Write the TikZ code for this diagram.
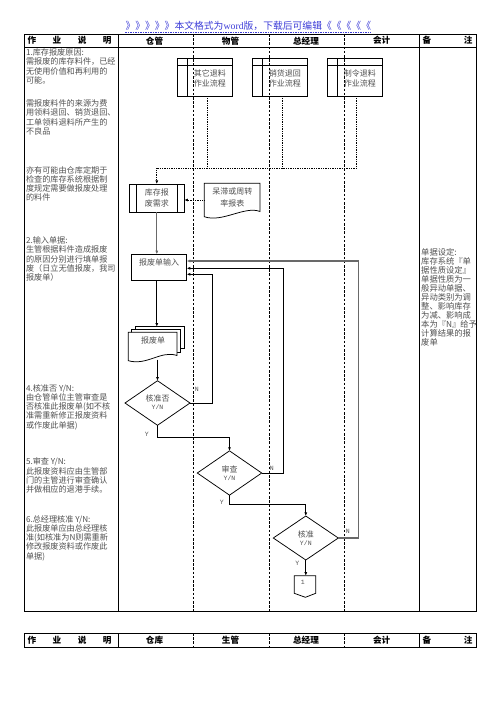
\documentclass[tikz,border=0pt]{standalone}
\usepackage{fontspec}
\setmainfont{Noto Sans CJK SC}
\setmonofont{Liberation Mono}
\newfontfamily\latinserif{Liberation Serif}
\usetikzlibrary{arrows.meta,calc}
\definecolor{txtgray}{RGB}{80,80,80}
\definecolor{linegray}{RGB}{105,105,105}
\definecolor{titleblue}{RGB}{60,60,215}
\tikzset{
  tbl/.style={line width=0.9pt},
  lane/.style={line width=0.6pt, dash pattern=on 2.6pt off 1.6pt},
  shp/.style={draw, line width=0.75pt},
  holder/.style={inner sep=0pt, outer sep=0pt},
  pbox/.style={shp, fill=white, inner sep=0pt, outer sep=0pt, minimum width=55pt, minimum height=37.7pt},
  ntext/.style={inner sep=0pt, align=center, text=txtgray, font=\fontsize{8}{10}\selectfont},
  yn/.style={inner sep=0pt, text=txtgray, font=\ttfamily\fontsize{6.5}{7}\selectfont},
  desc/.style={anchor=north west, inner sep=0pt, align=left, text=txtgray, font=\fontsize{8.15}{9.3}\selectfont},
  hdr/.style={inner sep=0pt, font=\bfseries\fontsize{8.6}{9}\selectfont},
  conn/.style={line width=0.75pt, -{Latex[length=3.6pt,width=3pt]}},
  gconn/.style={line width=1.3pt, draw=linegray, -{Latex[length=3.6pt,width=3pt]}},
  dline/.style={line width=0.75pt, densely dotted},
}
\begin{document}
\begin{tikzpicture}[x=1pt,y=-1pt]
\useasboundingbox (0,0) rectangle (496,702);

% title
\node[inner sep=0pt, text=titleblue, font=\fontsize{9.8}{10}\selectfont] (ttl) at (248.3,26) {》》》》》本文格式为{\latinserif word}版，下载后可编辑《《《《《};
\coordinate (ul) at (0,32.3);
\draw[titleblue, line width=0.5pt, dash pattern=on 1.5pt off 1pt] (ttl.west |- ul) -- (ttl.east |- ul);

% main table
\draw[tbl] (24.3,34) rectangle (476,611);
\draw[tbl] (24.3,47) -- (476,47);
\draw[tbl] (118.3,34) -- (118.3,611);
\draw[tbl] (419.3,34) -- (419.3,611);

% predefined process boxes (top)
\foreach \nm/\cx in {o1/204.8, o2/279.8, o3/354.8}{
  \node[pbox] (\nm) at (\cx,77.2) {};
}
\foreach \xx in {193.3,269.3,344.3} \draw[lane] (\xx,34) -- (\xx,611);
\foreach \nm/\la/\lb in {o1/其它退料/作业流程, o2/销货退回/作业流程, o3/制令退料/作业流程}{
  \draw[line width=0.75pt] ($(\nm.north west)+(10.4,0)$) -- ($(\nm.south west)+(10.4,0)$);
  \draw[line width=0.75pt] ($(\nm.north west)+(0,6.7)$) -- ($(\nm.north east)+(0,6.7)$);
  \node[ntext, xshift=5pt, yshift=-1pt] (\nm t) at (\nm.center) {\la\\\lb};
}

% header
\node[hdr] (h1) at (69.5,40.7) {\makebox[84pt][s]{作\hfill 业\hfill 说\hfill 明}};
\node[hdr] (h2) at (154.5,40.7) {仓管};
\node[hdr] (h3) at (230.5,40.7) {物管};
\node[hdr] (h4) at (306,40.7) {总经理};
\node[hdr] (h5) at (381.7,40.7) {会计};
\node[hdr] (h6) at (447.5,40.7) {\makebox[50pt][s]{备\hfill 注}};

% second header
\draw[tbl] (24.3,633) rectangle (476,647);
\draw[tbl] (118.3,633) -- (118.3,647);
\draw[tbl] (419.3,633) -- (419.3,647);
\foreach \xx in {193.3,269.3,344.3} \draw[lane] (\xx,633) -- (\xx,647);
\node[hdr] (g1) at (69.5,640) {\makebox[84pt][s]{作\hfill 业\hfill 说\hfill 明}};
\node[hdr] (g2) at (154.5,640) {仓库};
\node[hdr] (g3) at (230.5,640) {生管};
\node[hdr] (g4) at (306,640) {总经理};
\node[hdr] (g5) at (381.7,640) {会计};
\node[hdr] (g6) at (447.5,640) {\makebox[50pt][s]{备\hfill 注}};

% left descriptions
\node[desc] (tA) at (25.8,48.6) {1.库存报废原因:\\需报废的库存料件，已经\\无使用价值和再利用的\\可能。};
\node[desc] (tB) at (25.8,99.4) {需报废料件的来源为费\\用领料退回、销货退回、\\工单领料退料所产生的\\不良品};
\node[desc] (tC) at (25.8,165.9) {亦有可能由仓库定期于\\检查的库存系统根据制\\度规定需要做报废处理\\的料件};
\node[desc] (tD) at (25.8,236.4) {2.输入单据:\\生管根据料件造成报废\\的原因分别进行填单报\\废（日立无值报废，我司\\报废单）};
\node[desc] (tE) at (25.8,384) {4.核准否 Y/N:\\由仓管单位主管审查是\\否核准此报废单(如不核\\准需重新修正报废资料\\或作废此单据)};
\node[desc] (tF) at (25.8,457.6) {5.审查 Y/N:\\此报废资料应由生管部\\门的主管进行审查确认\\并做相应的退港手续。};
\node[desc] (tG) at (25.8,515) {6.总经理核准 Y/N:\\此报废单应由总经理核\\准(如核准为N则需重新\\修改报废资料或作废此\\单据)};

% remarks
\node[desc, font=\fontsize{8.3}{9}\selectfont] (tR) at (421,248.2) {单据设定:\\库存系统『单\\据性质设定』\\单据性质为一\\般异动单据、\\异动类别为调\\整、影响库存\\为减、影响成\\本为『N』给予\\计算结果的报\\废单};

% 库存报废需求
\node[shp, inner sep=0pt, outer sep=0pt, minimum width=55pt, minimum height=28.3pt] (kc) at (156.8,198.15) {};
\draw[line width=0.75pt] ($(kc.north west)+(6.7,0)$) -- ($(kc.south west)+(6.7,0)$);
\draw[line width=0.75pt] ($(kc.north east)+(-6.7,0)$) -- ($(kc.south east)+(-6.7,0)$);
\node[ntext, font=\fontsize{8}{10.6}\selectfont] (kct) at (156.8,198) {库存报\\废需求};

% 呆滞或周转率报表 (document)
\node[holder, minimum width=55.7pt, minimum height=34.7pt] (dz) at (232.15,200.65) {};
\draw[shp] (204.3,183.3) -- (260,183.3) -- (260,211.5) .. controls (245,205.5) and (222,223) .. (204.3,216.7) -- cycle;
\node[ntext, font=\fontsize{8}{11.6}\selectfont] (dzt) at (232.3,197.5) {呆滞或周转\\率报表};

% dotted connectors
\coordinate (dj) at (156.8,168.3);
\draw[dline] ($(o1.south west)+(30.4,0)$) coordinate (s1) -- (s1 |- dj);
\draw[dline] ($(o2.south west)+(29.6,0)$) coordinate (s2) -- (s2 |- dj);
\draw[dline] ($(o3.south west)+(29,0)$) |- (dj);
\draw[dline, -{Latex[length=3.6pt,width=3pt]}] (dj) -- (kc.north);
\draw[dline, -{Latex[length=3.6pt,width=3pt]}] (dz.west |- 0,200) -- (kc.east |- 0,200);

% 报废单输入
\node[shp, inner sep=0pt, outer sep=0pt, minimum width=55pt, minimum height=25.7pt] (bs) at (159.2,267.15) {};
\node[ntext] (bst) at (159.2,262.3) {报废单输入};
\draw[gconn] (kc.south) -- (kc.south |- bs.north);

% 报废单 (multi-document)
\node[holder, minimum width=56pt, minimum height=34.3pt] (bd) at (156.3,343.85) {};
\filldraw[shp, fill=white] (135.3,326.7) rectangle (184.3,348.3);
\filldraw[shp, fill=white] (131.8,329.5) rectangle (180.8,352);
\filldraw[shp, fill=white] (128.3,332.3) -- (177,332.3) -- (177,355.5) .. controls (161,350) and (147,366) .. (128.3,360.7) -- cycle;
\node[ntext] (bdt) at (153,340.5) {报废单};
\draw[conn] (bs.south -| kc.south) -- (kc.south |- bd.north);

% diamonds
\node[holder, minimum width=65pt, minimum height=44.6pt] (d1) at (157.5,403) {};
\draw[shp] (d1.north) -- (d1.east) -- (d1.south) -- (d1.west) -- cycle;
\node[ntext] (d1a) at (157.5,398.5) {核准否};
\node[yn] (d1b) at (157.5,407) {Y/N};

\node[holder, minimum width=64.4pt, minimum height=44.3pt] (d2) at (229.5,473) {};
\draw[shp] (d2.north) -- (d2.east) -- (d2.south) -- (d2.west) -- cycle;
\node[ntext] (d2a) at (229.5,469.5) {审查};
\node[yn] (d2b) at (229.5,478.3) {Y/N};

\node[holder, minimum width=65pt, minimum height=44pt] (d3) at (305.8,538) {};
\draw[shp] (d3.north) -- (d3.east) -- (d3.south) -- (d3.west) -- cycle;
\node[ntext] (d3a) at (305.8,534.5) {核准};
\node[yn] (d3b) at (305.8,543.3) {Y/N};

\draw[conn] (d1.north |- bd.south) ++(0,-1.5) -- (d1.north);

% off-page connector
\node[holder, minimum width=21.4pt, minimum height=21.6pt] (oc) at (305,586.5) {};
\draw[shp] (294.3,575.7) -- (315.7,575.7) -- (315.7,593.3) -- (305.4,597.3) -- (294.3,593.3) -- cycle;
\node[yn] (oct) at (302.7,582.7) {1};

% Y / N connectors
\draw[conn] (d1.south) -- ++(0,11.7) -| (d2.north);
\draw[conn] (d2.south) -- ++(0,9.3) -| (d3.north);
\draw[conn] (d3.south) -- (d3.south |- oc.north);
\draw[conn] (d1.east) -- ++(22,0) |- ($(bs.east)+(0,7.15)$);
\draw[conn] (d2.east) -- ++(21.6,0) |- ($(bs.east)+(0,1.15)$);
\draw[gconn, line width=1.1pt] (d3.east) -- ++(20,0) |- ($(bs.east)+(0,-6.15)$);

\node[yn] (y1) at (146.7,434) {Y};
\node[yn] (y2) at (221.7,502) {Y};
\node[yn] (y3) at (297.3,563.3) {Y};
\node[yn] (n1) at (196.7,389.3) {N};
\node[yn] (n2) at (271.7,468.3) {N};
\node[yn] (n3) at (347.7,531.7) {N};
\end{tikzpicture}
\end{document}
